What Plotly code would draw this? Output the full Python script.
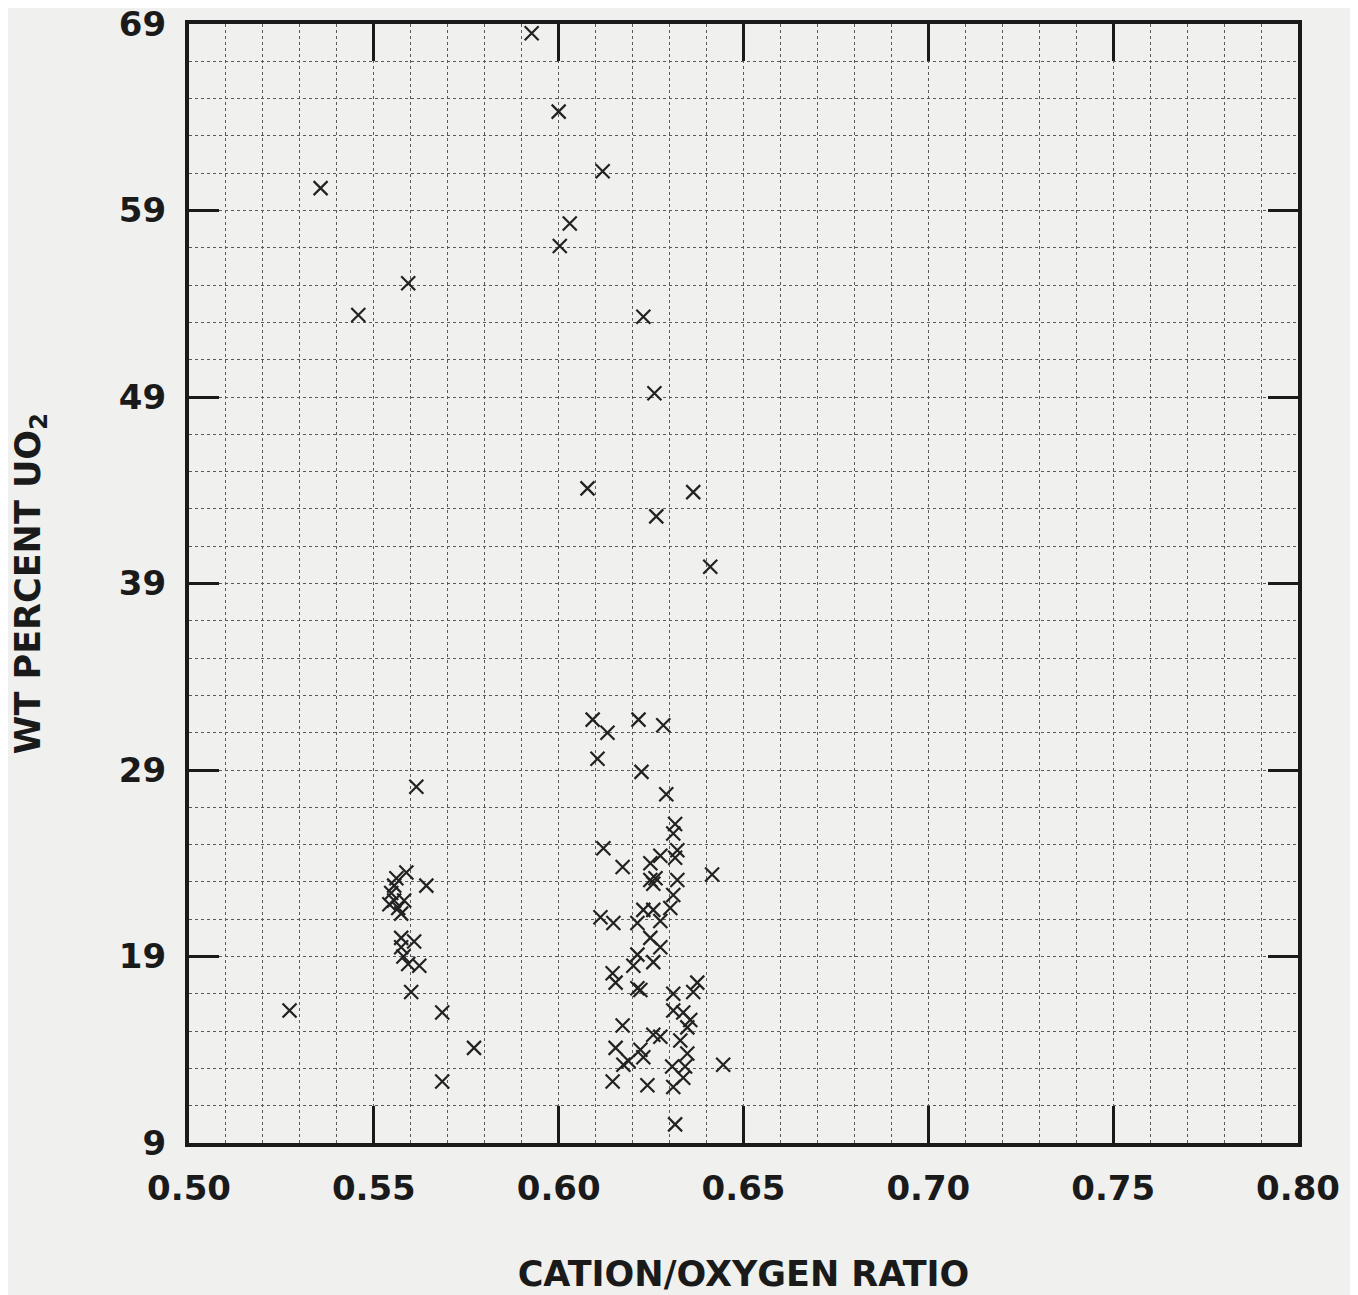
import plotly.graph_objects as go

# Cation/oxygen ratio (x) and wt percent UO2 (y)
ratio = [
    0.5927, 0.6000, 0.5356, 0.6119, 0.6030, 0.6003, 0.5593, 0.5458, 0.6229, 0.6259,
    0.6078, 0.6364, 0.6264, 0.6410, 0.6092, 0.6132, 0.6216, 0.6283, 0.6105, 0.6224,
    0.6291, 0.5615,
    # right cluster
    0.6315, 0.6310, 0.6121, 0.6173, 0.6248, 0.6275, 0.6315, 0.6321, 0.6248, 0.6256,
    0.6262, 0.6321, 0.6310, 0.6302, 0.6415, 0.6113, 0.6148, 0.6213, 0.6229, 0.6256,
    0.6275, 0.6248, 0.6275, 0.6213, 0.6202, 0.6256, 0.6146, 0.6154, 0.6213, 0.6221,
    0.6310, 0.6375, 0.6364, 0.6310, 0.6337, 0.6356, 0.6348, 0.6173, 0.6154, 0.6175,
    0.6189, 0.6221, 0.6229, 0.6256, 0.6275, 0.6329, 0.6348, 0.6342, 0.6337, 0.6307,
    0.6310, 0.6146, 0.6240, 0.6445, 0.6315,
    # left cluster
    0.5561, 0.5588, 0.5642, 0.5547, 0.5555, 0.5566, 0.5574, 0.5582, 0.5542, 0.5555,
    0.5574, 0.5609, 0.5580, 0.5593, 0.5623, 0.5574, 0.5601, 0.5272, 0.5685, 0.5771,
    0.5685,
]
wt_uo2 = [
    68.5, 64.3, 60.2, 61.1, 58.3, 57.1, 55.1, 53.4, 53.3, 49.2,
    44.1, 43.9, 42.6, 39.9, 31.7, 31.0, 31.7, 31.4, 29.6, 28.9,
    27.7, 28.1,
    26.1, 25.6, 24.8, 23.8, 24.0, 24.4, 24.3, 24.7, 23.1, 22.9,
    23.2, 23.1, 22.3, 21.6, 23.4, 21.1, 20.8, 20.8, 21.5, 21.5,
    20.9, 20.0, 19.5, 19.1, 18.5, 18.7, 18.1, 17.6, 17.3, 17.2,
    17.0, 17.6, 17.1, 16.1, 16.0, 15.6, 15.2, 15.3, 14.1, 13.2,
    13.4, 14.0, 13.6, 14.8, 14.7, 14.5, 13.8, 13.1, 12.5, 13.1,
    12.0, 12.3, 12.1, 13.2, 10.0,
    23.2, 23.5, 22.8, 22.4, 22.0, 21.6, 21.3, 22.0, 21.8, 22.8,
    20.0, 19.8, 19.0, 18.6, 18.5, 19.5, 17.1, 16.1, 16.0, 14.1,
    12.3,
]

x_ticks = [0.50, 0.55, 0.60, 0.65, 0.70, 0.75, 0.80]
x_tick_text = ["0.50", "0.55", "0.60", "0.65", "0.70", "0.75", "0.80"]
y_ticks = [9, 19, 29, 39, 49, 59, 69]
y_tick_text = ["9", "19", "29", "39", "49", "59", "69"]

bg = "#f0f0ee"
ink = "#1a1a1a"
tick_font = dict(family="DejaVu Sans", size=34, color=ink, weight="bold")
title_font = dict(family="DejaVu Sans", size=35, color=ink, weight="bold")

fig = go.Figure()
fig.add_trace(go.Scatter(
    x=ratio, y=wt_uo2, mode="markers",
    marker=dict(symbol="x-thin", size=14, line=dict(width=2.2, color="#222222")),
    showlegend=False, cliponaxis=False,
))

grid_common = dict(gridcolor="#5a5a5a", gridwidth=1.4, griddash="dot")

fig.update_xaxes(
    range=[0.50, 0.80], tickvals=x_ticks, ticktext=x_tick_text,
    ticks="inside", ticklen=37, tickwidth=3, tickcolor=ink,
    showline=True, linewidth=4, linecolor=ink, mirror="ticks",
    showgrid=True, **grid_common,
    minor=dict(dtick=0.01, tick0=0.5, showgrid=True, gridcolor="#5a5a5a",
               gridwidth=1.4, griddash="dot", ticks=""),
    tickfont=tick_font, ticklabelstandoff=12, ticklabeloverflow="allow",
    title=dict(text="CATION/OXYGEN RATIO", font=title_font, standoff=56),
    zeroline=False, automargin=False,
)
fig.update_yaxes(
    range=[9, 69], tickvals=y_ticks, ticktext=y_tick_text,
    ticks="inside", ticklen=30, tickwidth=3, tickcolor=ink,
    showline=True, linewidth=4, linecolor=ink, mirror="ticks",
    showgrid=True, **grid_common,
    minor=dict(dtick=2, tick0=9, showgrid=True, gridcolor="#5a5a5a",
               gridwidth=1.4, griddash="dot", ticks=""),
    tickfont=tick_font, ticklabelstandoff=12, ticklabeloverflow="allow",
    title=dict(text="WT PERCENT UO<sub>2</sub>", font=title_font, standoff=78),
    zeroline=False, automargin=False,
)

fig.update_layout(
    width=1358, height=1295,
    margin=dict(l=181, r=68, t=16, b=160, pad=0),
    paper_bgcolor=bg, plot_bgcolor=bg,
)

fig.write_html("out.html")
